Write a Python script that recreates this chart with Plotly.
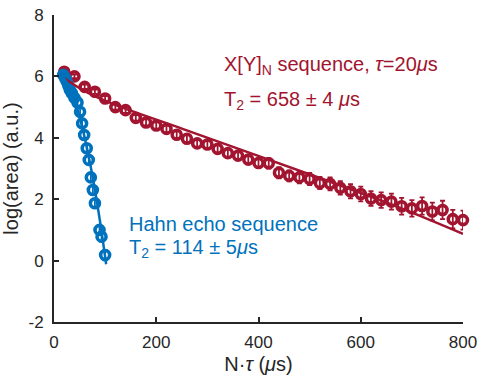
import plotly.graph_objects as go

# X[Y]_N sequence (tau = 20 us): echo area vs total evolution time
xy_t = [20, 40, 60, 80, 100, 120, 140, 160, 180, 200,
        220, 240, 260, 280, 300, 320, 340, 360, 380, 400,
        420, 440, 460, 480, 500, 520, 540, 560, 580, 600,
        620, 640, 660, 680, 700, 720, 740, 760, 780, 800]
xy_log = [6.15, 6.00, 5.66, 5.50, 5.28, 5.00, 4.90, 4.65, 4.50, 4.40,
          4.29, 4.10, 3.97, 3.82, 3.78, 3.64, 3.50, 3.42, 3.29, 3.18,
          3.17, 2.86, 2.76, 2.71, 2.66, 2.53, 2.50, 2.37, 2.26, 2.17,
          2.02, 1.97, 1.92, 1.77, 1.70, 1.78, 1.60, 1.65, 1.35, 1.32]
xy_err = [0.06, 0.06, 0.07, 0.07, 0.08, 0.08, 0.09, 0.09, 0.10, 0.10,
          0.11, 0.11, 0.12, 0.12, 0.13, 0.13, 0.14, 0.15, 0.15, 0.16,
          0.17, 0.18, 0.18, 0.19, 0.20, 0.20, 0.21, 0.22, 0.23, 0.24,
          0.24, 0.25, 0.26, 0.27, 0.27, 0.28, 0.29, 0.30, 0.30, 0.31]
xy_fit_t = [20, 60, 120, 250, 520, 660, 800]
xy_fit_log = [5.95, 5.52, 5.07, 4.30, 2.69, 1.83, 0.87]

# Hahn echo: echo area vs total evolution time
hahn_t = [18, 22, 25, 28, 31, 35, 40, 46, 51, 55,
          59, 64, 68, 72, 76, 80, 89, 93, 100]
hahn_log = [6.05, 5.94, 5.83, 5.70, 5.56, 5.45, 5.30, 5.15, 4.85, 4.47,
            4.09, 3.66, 3.28, 2.71, 2.30, 1.87, 1.00, 0.78, 0.18]
hahn_err = [0.08, 0.08, 0.08, 0.09, 0.09, 0.09, 0.10, 0.10, 0.11, 0.11,
            0.12, 0.12, 0.13, 0.13, 0.14, 0.14, 0.15, 0.16, 0.17]
hahn_fit_t = [15, 30, 45, 60, 75, 90, 100, 102]
hahn_fit_log = [6.06, 5.65, 4.97, 4.01, 2.78, 1.28, 0.12, -0.12]

x_ticks = [0, 200, 400, 600, 800]
y_ticks = [-2, 0, 2, 4, 6, 8]
y_tick_text = ["-2", "0", "2", "4", "6", "8"]

RED = "#A2142F"
BLUE = "#0072BD"
AXIS = "#262626"
FONT = "Liberation Sans, Arial, sans-serif"

fig = go.Figure()

# measured points with vertical error bars
for t, v, e, c in [(xy_t, xy_log, xy_err, RED), (hahn_t, hahn_log, hahn_err, BLUE)]:
    fig.add_trace(go.Scatter(
        x=t, y=v, mode="markers",
        marker=dict(symbol="circle-open", size=9, color=c, line=dict(width=3.6, color=c)),
        error_y=dict(type="data", array=e, visible=True, color=c, thickness=1.8, width=2.5),
        cliponaxis=False, showlegend=False, hoverinfo="skip",
    ))

# fitted decay curves
for t, v, c in [(xy_fit_t, xy_fit_log, RED), (hahn_fit_t, hahn_fit_log, BLUE)]:
    fig.add_trace(go.Scatter(
        x=t, y=v, mode="lines", line=dict(color=c, width=2.5, shape="spline"),
        showlegend=False, hoverinfo="skip",
    ))

annotations = [
    dict(x=329, y=6.36, text="X[Y]<sub>N</sub> sequence, <i>τ</i>=20<i>μ</i>s", color=RED),
    dict(x=329, y=5.2, text="T<sub>2</sub> = 658 ± 4 <i>μ</i>s", color=RED),
    dict(x=143, y=1.2, text="Hahn echo sequence", color=BLUE),
    dict(x=143, y=0.38, text="T<sub>2</sub> = 114 ± 5<i>μ</i>s", color=BLUE),
]
for a in annotations:
    fig.add_annotation(
        x=a["x"], y=a["y"], text=a["text"], showarrow=False,
        xanchor="left", yanchor="middle",
        font=dict(family=FONT, size=20, color=a["color"]),
    )

axis_common = dict(
    showgrid=False, zeroline=False, showline=True, linecolor=AXIS, linewidth=2,
    ticks="inside", ticklen=5, tickwidth=2, tickcolor=AXIS,
    tickfont=dict(family=FONT, size=17, color=AXIS),
    mirror=False, automargin=False,
)

fig.update_xaxes(
    range=[0, 800], tickvals=x_ticks, ticklabelstandoff=4,
    title=dict(text="N·<i>τ</i> (<i>μ</i>s)", font=dict(family=FONT, size=20, color=AXIS), standoff=6),
    **axis_common,
)
fig.update_yaxes(
    range=[-2, 8], tickvals=y_ticks, ticktext=y_tick_text, ticklabelstandoff=5,
    title=dict(text="log(area) (a.u.)", font=dict(family=FONT, size=20, color=AXIS), standoff=9),
    **axis_common,
)

fig.update_layout(
    width=480, height=383,
    margin=dict(l=54, r=17, t=15, b=61),
    plot_bgcolor="white", paper_bgcolor="white",
)

fig.write_html("out.html")
